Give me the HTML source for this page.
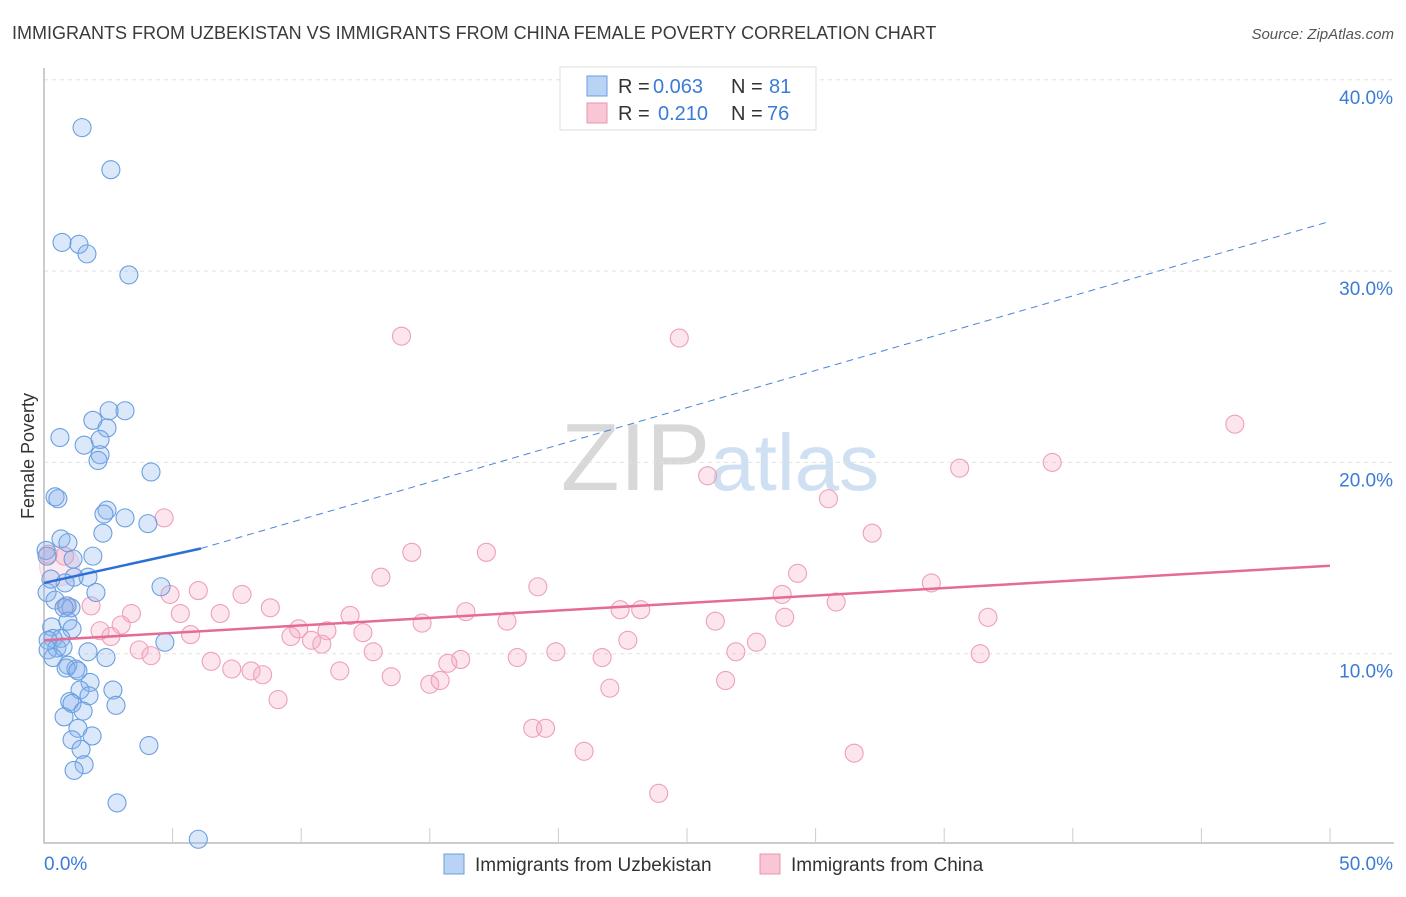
<!DOCTYPE html>
<html><head><meta charset="utf-8"><style>
body{margin:0;background:#fff;font-family:"Liberation Sans",sans-serif}
svg text{font-family:"Liberation Sans",sans-serif}
</style></head><body>
<svg id="chart" width="1406" height="892" viewBox="0 0 1406 892" xmlns="http://www.w3.org/2000/svg">
<text x="12" y="39" font-size="18" fill="#3a3a3a">IMMIGRANTS FROM UZBEKISTAN VS IMMIGRANTS FROM CHINA FEMALE POVERTY CORRELATION CHART</text>
<text x="1394" y="39" font-size="15" fill="#555" text-anchor="end" font-style="italic">Source: ZipAtlas.com</text>
<text x="720" y="490" font-size="96" text-anchor="middle" fill="#ddd" font-family="Liberation Serif"><tspan fill="#d8d8d8">ZIP</tspan><tspan fill="#cfe0f3" font-family="Liberation Sans" font-size="80">atlas</tspan></text>
<g id="grid"></g>
<g id="axes"></g>
<g id="pts"></g>
<g id="trends"></g>
<text transform="translate(34,456) rotate(-90)" font-size="18" fill="#333" text-anchor="middle">Female Poverty</text>
<g>
<rect x="560" y="67" width="256" height="63" fill="#fff" stroke="#ddd"/>
<rect x="587" y="76" width="20" height="20" fill="#b9d3f5" stroke="#6a9ee0"/>
<rect x="587" y="103" width="20" height="20" fill="#f9c6d5" stroke="#eb93ae"/>
<text x="618" y="93" font-size="20" fill="#333">R =</text>
<text x="653" y="93" font-size="20" fill="#3b7bd8">0.063</text>
<text x="731" y="93" font-size="20" fill="#333">N =</text>
<text x="769" y="93" font-size="20" fill="#3b7bd8">81</text>
<text x="618" y="120" font-size="20" fill="#333">R =</text>
<text x="658" y="120" font-size="20" fill="#3b7bd8">0.210</text>
<text x="731" y="120" font-size="20" fill="#333">N =</text>
<text x="767" y="120" font-size="20" fill="#3b7bd8">76</text>
</g>
<g>
<rect x="444" y="854" width="20" height="20" fill="#b9d3f5" stroke="#6a9ee0"/>
<text x="475" y="871" font-size="19" fill="#333">Immigrants from Uzbekistan</text>
<rect x="760" y="854" width="20" height="20" fill="#f9c6d5" stroke="#eb93ae"/>
<text x="791" y="871" font-size="19" fill="#333">Immigrants from China</text>
</g>
</svg>
<script>
const yTicks=[10,20,30,40];
const yTickLabels=["10.0%","20.0%","30.0%","40.0%"];
const xTicks=[5,10,15,20,25,30,35,40,45,50];
const xEndLabels=["0.0%","50.0%"];
const uzX=[1.48,2.6,0.7,1.36,1.67,3.3,3.15,2.53,1.9,2.45,0.62,2.18,1.56,2.18,2.1,4.16,0.43,0.54,2.45,2.33,3.15,4.04,2.29,0.66,0.93,0.08,0.12,1.9,1.13,1.71,1.17,0.82,4.55,2.02,0.12,0.43,0.9,1.05,0.78,0.93,1.09,0.3,0.66,0.35,0.16,4.7,0.5,0.16,0.74,1.71,0.35,2.41,0.93,1.24,0.86,1.32,1.79,1.4,2.68,1.0,1.75,1.09,2.8,1.52,0.78,1.32,1.87,1.09,1.44,4.08,1.56,1.17,2.84,6.0,0.27];
const uzY=[37.5,35.3,31.5,31.4,30.9,29.8,22.7,22.7,22.2,21.8,21.3,21.2,20.9,20.4,20.1,19.5,18.2,18.1,17.5,17.3,17.1,16.8,16.3,16.0,15.8,15.4,15.1,15.1,14.95,14.0,14.0,13.7,13.5,13.2,13.2,12.8,12.5,12.4,12.4,11.7,11.3,11.4,10.8,10.8,10.7,10.6,10.3,10.2,10.35,10.1,9.8,9.8,9.4,9.2,9.25,9.1,8.5,8.1,8.1,7.5,7.8,7.4,7.3,7.0,6.7,6.1,5.7,5.5,5.0,5.2,4.2,3.9,2.2,0.3,13.9];
const cnX=[13.9,24.7,46.3,39.2,35.6,25.8,30.5,4.67,32.2,14.3,17.2,0.16,0.8,13.1,29.3,19.2,34.5,6.0,4.9,7.7,28.7,0.86,1.83,30.8,8.8,16.4,22.4,23.2,3.4,5.3,6.85,11.9,28.8,36.7,3.0,18.0,14.7,26.1,9.9,11.0,2.18,12.4,2.6,5.7,9.6,10.4,10.8,22.7,27.7,3.7,4.16,12.8,19.9,26.9,36.4,6.5,16.2,18.4,21.7,15.7,7.3,8.05,8.5,11.5,13.5,15.0,15.4,26.5,22.0,9.1,19.0,19.5,21.0,31.5,23.9];
const cnY=[26.6,26.5,22.0,20.0,19.7,19.3,18.1,17.1,16.3,15.3,15.3,15.2,15.1,14.0,14.2,13.5,13.7,13.3,13.1,13.1,13.1,12.5,12.5,12.7,12.4,12.2,12.3,12.3,12.1,12.1,12.1,12.0,11.9,11.9,11.5,11.7,11.6,11.7,11.3,11.2,11.2,11.1,10.9,11.0,10.9,10.7,10.5,10.7,10.6,10.2,9.9,10.1,10.1,10.1,10.0,9.6,9.7,9.8,9.8,9.5,9.2,9.1,8.9,9.1,8.8,8.4,8.6,8.6,8.2,7.6,6.1,6.1,4.9,4.8,2.7];
const uzTrend=[[0,13.7],[6.1,15.5],[50,32.6]];
const cnTrend=[[0,10.7],[50,14.6]];
const NS="http://www.w3.org/2000/svg";
const X=v=>44+v*25.72, Y=v=>845-v*19.13;
function mk(tag,attrs,parent,txt){const e=document.createElementNS(NS,tag);for(const k in attrs)e.setAttribute(k,attrs[k]);if(txt!==undefined)e.textContent=txt;parent.appendChild(e);return e;}
const grid=document.getElementById('grid'),axes=document.getElementById('axes'),pts=document.getElementById('pts'),tr=document.getElementById('trends');
yTicks.forEach((t,i)=>{
 const l=mk('line',{x1:44,x2:1394,y1:Y(t),y2:Y(t),stroke:'#e2e2e2','stroke-dasharray':'4,4'},grid);
 
 
 const tx=mk('text',{x:1393,y:Y(t)+24,'font-size':19,fill:'#3b7bd8','text-anchor':'end'},axes,yTickLabels[i]);
 
 
});
const ax=mk('path',{d:'M44 68 V843 H1394',stroke:'#bbb',fill:'none','stroke-width':1.5},axes);


xTicks.forEach(t=>{
 const l=mk('line',{x1:X(t),x2:X(t),y1:828,y2:843,stroke:'#ccc'},axes);
 
 
});
const xl0=mk('text',{x:44,y:870,'font-size':19,fill:'#3b7bd8'},axes,xEndLabels[0]);


const xl1=mk('text',{x:1393,y:870,'font-size':19,fill:'#3b7bd8','text-anchor':'end'},axes,xEndLabels[1]);


const big=mk('circle',{cx:X(0.6),cy:Y(14.6),r:20,fill:'rgba(245,160,185,0.22)',stroke:'rgba(232,138,168,0.35)'},pts);


cnX.forEach((x,i)=>{
 const c=mk('circle',{cx:X(x),cy:Y(cnY[i]),r:9,fill:'rgba(245,170,195,0.3)',stroke:'#eea0b8','stroke-width':1.1},pts);
 
 
});
uzX.forEach((x,i)=>{
 const c=mk('circle',{cx:X(x),cy:Y(uzY[i]),r:9,fill:'rgba(135,180,238,0.3)',stroke:'#6b9fe0','stroke-width':1.1},pts);
 
 
});
const u1=mk('line',{x1:X(uzTrend[0][0]),y1:Y(uzTrend[0][1]),x2:X(uzTrend[1][0]),y2:Y(uzTrend[1][1]),stroke:'#2c6fd6','stroke-width':2.5},tr);


const u2=mk('line',{x1:X(uzTrend[1][0]),y1:Y(uzTrend[1][1]),x2:X(uzTrend[2][0]),y2:Y(uzTrend[2][1]),stroke:'#4a85d8','stroke-width':1,'stroke-dasharray':'7,5'},tr);


const c1=mk('line',{x1:X(cnTrend[0][0]),y1:Y(cnTrend[0][1]),x2:X(cnTrend[1][0]),y2:Y(cnTrend[1][1]),stroke:'#e56a96','stroke-width':2.5},tr);


</script>
</body></html>
